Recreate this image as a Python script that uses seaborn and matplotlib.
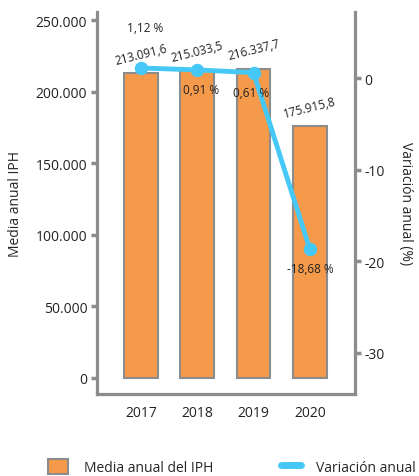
import matplotlib
matplotlib.use("Agg")
import matplotlib.pyplot as plt
import seaborn as sns
from matplotlib.patches import Patch
from matplotlib.lines import Line2D

# data
years = ["2017", "2018", "2019", "2020"]
media_iph = [213091.6, 215033.5, 216337.7, 175915.8]
variacion = [1.12, 0.91, 0.61, -18.68]
bar_labels = ["213.091,6", "215.033,5", "216.337,7", "175.915,8"]
pct_labels = ["1,12 %", "0,91 %", "0,61 %", "-18,68 %"]
left_ticks = [0, 50000, 100000, 150000, 200000, 250000]
left_tick_labels = ["0", "50.000", "100.000", "150.000", "200.000", "250.000"]
right_ticks = [0, -10, -20, -30]

sns.set_style("white")
plt.rcParams["font.family"] = ["Open Sans", "DejaVu Sans"]

bar_color = "#F5994A"
line_color = "#45C8F5"
spine_color = "#8C8C8C"

fig = plt.figure(figsize=(4.19, 4.77), dpi=100)
ax = fig.add_axes([0.2315, 0.172, 0.6155, 0.801])

sns.barplot(x=years, y=media_iph, ax=ax, color=bar_color, width=0.6,
            edgecolor=spine_color, linewidth=1.5, saturation=1)
ax.set_ylim(-11300, 256000)
ax.set_xlim(-0.78, 3.8)
ax.set_yticks(left_ticks)
ax.set_yticklabels(left_tick_labels)
ax.set_ylabel("Media anual IPH", fontsize=10, labelpad=9)

for i, v in enumerate(media_iph):
    ax.annotate(bar_labels[i], (i, v), xytext=(0, 14), textcoords="offset points",
                ha="center", va="center", rotation=14, fontsize=8.5, color="#222222")

ax2 = ax.twinx()
sns.pointplot(x=years, y=variacion, ax=ax2, color=line_color,
              linewidth=3.5, markersize=7)
ax2.set_ylim(-34.5, 7.25)
ax2.set_xlim(-0.78, 3.8)
ax2.set_yticks(right_ticks)
ax2.set_yticklabels([str(t) for t in right_ticks])
ax2.set_ylabel("Variación anual (%)", fontsize=10, rotation=-90, labelpad=20)

offsets = [(3, 29), (3, -14), (-2, -14), (0, -14)]
for i, v in enumerate(variacion):
    ax2.annotate(pct_labels[i], (i, v), xytext=offsets[i], textcoords="offset points",
                 ha="center", va="center", fontsize=8.5, color="#222222")

for a in (ax, ax2):
    for s in a.spines.values():
        s.set_visible(False)
    a.tick_params(colors=spine_color, labelcolor="#222222", length=4, width=2.5,
                  labelsize=10)
ax.spines["left"].set_visible(True)
ax.spines["bottom"].set_visible(True)
ax2.spines["right"].set_visible(True)
for s in [ax.spines["left"], ax.spines["bottom"], ax2.spines["right"]]:
    s.set_color(spine_color)
    s.set_linewidth(2.3)
ax.tick_params(axis="x", pad=4)
ax.tick_params(axis="y", pad=3)
ax2.tick_params(axis="y", pad=3)
ax2.set_xlabel("")

handles = [Patch(facecolor=bar_color, edgecolor=spine_color, linewidth=1.5),
           Line2D([0], [0], color=line_color, linewidth=5)]
fig.legend(handles, ["Media anual del IPH", "Variación anual"],
           loc="lower left", bbox_to_anchor=(0.085, -0.025), ncol=2, frameon=False,
           fontsize=10, columnspacing=4.9, handlelength=1.45, handleheight=1.3,
           handletextpad=1.1)

fig.savefig("out.png", dpi=100)
